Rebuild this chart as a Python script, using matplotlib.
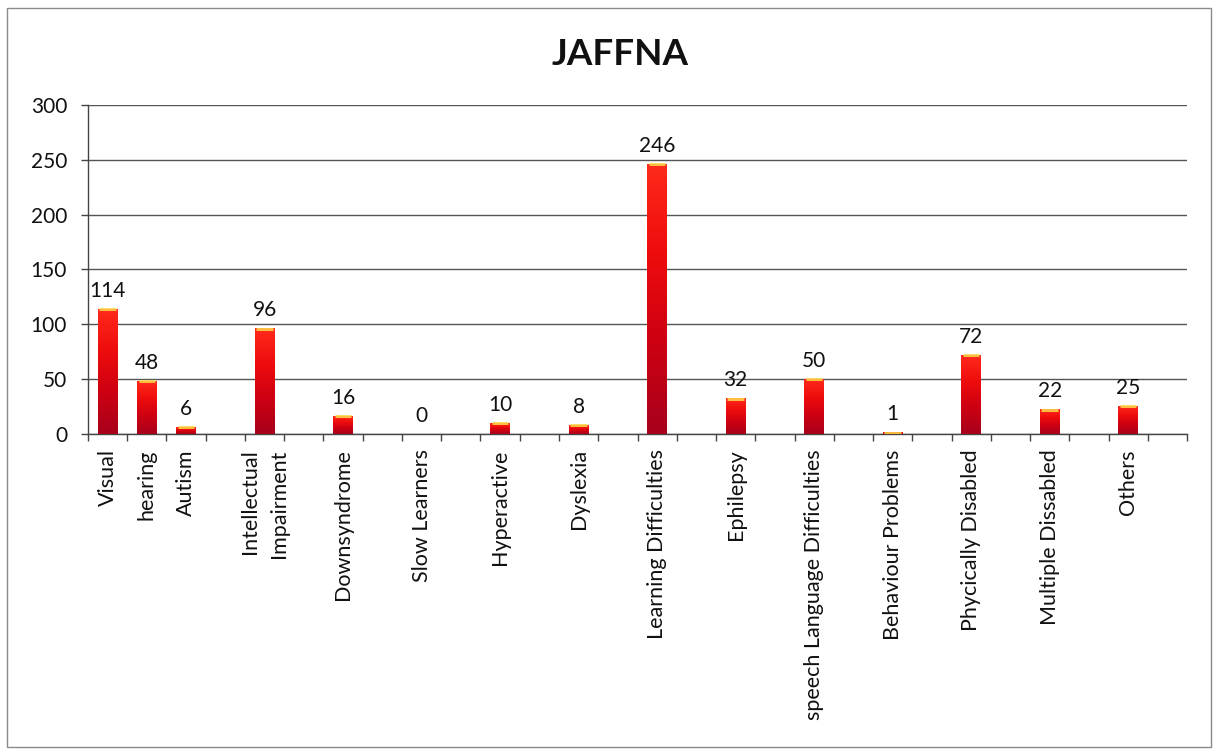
import matplotlib
matplotlib.use("Agg")
import matplotlib.pyplot as plt
import numpy as np
from matplotlib.colors import LinearSegmentedColormap
from matplotlib.patches import Rectangle

# ---- data (blank categories are empty slots in the source sheet) ----
categories = ["Visual", "hearing", "Autism", "", "Intellectual\nImpairment", "",
              "Downsyndrome", "", "Slow Learners", "", "Hyperactive", "",
              "Dyslexia", "", "Learning Difficulties", "", "Ephilepsy", "",
              "speech Language Difficulties", "", "Behaviour Problems", "",
              "Phycically Disabled", "", "Multiple Dissabled", "", "Others", ""]
values = [114, 48, 6, None, 96, None, 16, None, 0, None, 10, None, 8, None,
          246, None, 32, None, 50, None, 1, None, 72, None, 22, None, 25, None]
title = "JAFFNA"
yticks = [0, 50, 100, 150, 200, 250, 300]

plt.rcParams['font.family'] = ['Lato', 'DejaVu Sans']

fig = plt.figure(figsize=(12.18, 7.52), dpi=100)
ax = fig.add_axes([0.0722, 0.4230, 0.9024, 0.4374])

x = np.arange(len(categories))
vals = np.array([np.nan if v is None else v for v in values], dtype=float)

cmap = LinearSegmentedColormap.from_list(
    "redgrad", ["#a8001c", "#cc0012", "#ee0c0c", "#ff2a1c"])
grad = np.linspace(0, 1, 256).reshape(-1, 1)

bar_w = 0.5
for xi, v in zip(x, vals):
    if np.isnan(v) or v <= 0:
        continue
    ax.imshow(grad, cmap=cmap, origin="lower", aspect="auto",
              extent=[xi - bar_w / 2, xi + bar_w / 2, 0, v], zorder=3,
              interpolation="bilinear")
    ax.plot([xi - bar_w / 2 + 0.04, xi + bar_w / 2 - 0.04], [v, v],
            color="#ffd84a", lw=2.2, alpha=0.85, zorder=4,
            solid_capstyle="butt")

for xi, v in zip(x, vals):
    if np.isnan(v):
        continue
    ax.annotate(f"{int(v)}", (xi, v), xytext=(0, 6), textcoords="offset points",
                ha="center", va="bottom", fontsize=15, color="#111111")

ax.set_xlim(-0.5, len(categories) - 0.5)
ax.set_ylim(0, 300)
ax.set_yticks(yticks)
ax.tick_params(axis="y", labelsize=15, length=5, width=1, color="#444444",
               pad=10, labelcolor="#111111")

ax.set_xticks(x)
labels = ax.set_xticklabels(categories, rotation=90, fontsize=15.5, ha="center",
                            va="top", multialignment="right", color="#111111")
for lb in labels:
    lb.set_linespacing(1.55)
    if "\n" in lb.get_text():
        lb.set_x(lb.get_position()[0])
ax.set_xticks(np.arange(-0.5, len(categories)), minor=True)
ax.tick_params(axis="x", which="major", length=0, pad=11)
ax.tick_params(axis="x", which="minor", length=5, width=1, color="#444444")

ax.grid(axis="y", color="#555555", lw=1.0, zorder=1)
ax.set_axisbelow(True)
for s in ["top", "right"]:
    ax.spines[s].set_visible(False)
for s in ["left", "bottom"]:
    ax.spines[s].set_color("#444444")
    ax.spines[s].set_linewidth(1.0)

fig.text(0.509, 0.927, title, ha="center", va="center", fontsize=26.5,
         fontweight="bold", color="#111111")

fig.patches.append(Rectangle((0.006, 0.006), 0.988, 0.984,
                             transform=fig.transFigure, fill=False,
                             edgecolor="#8a8a8a", lw=1.0))

fig.savefig("out.png", dpi=100, facecolor="white")
